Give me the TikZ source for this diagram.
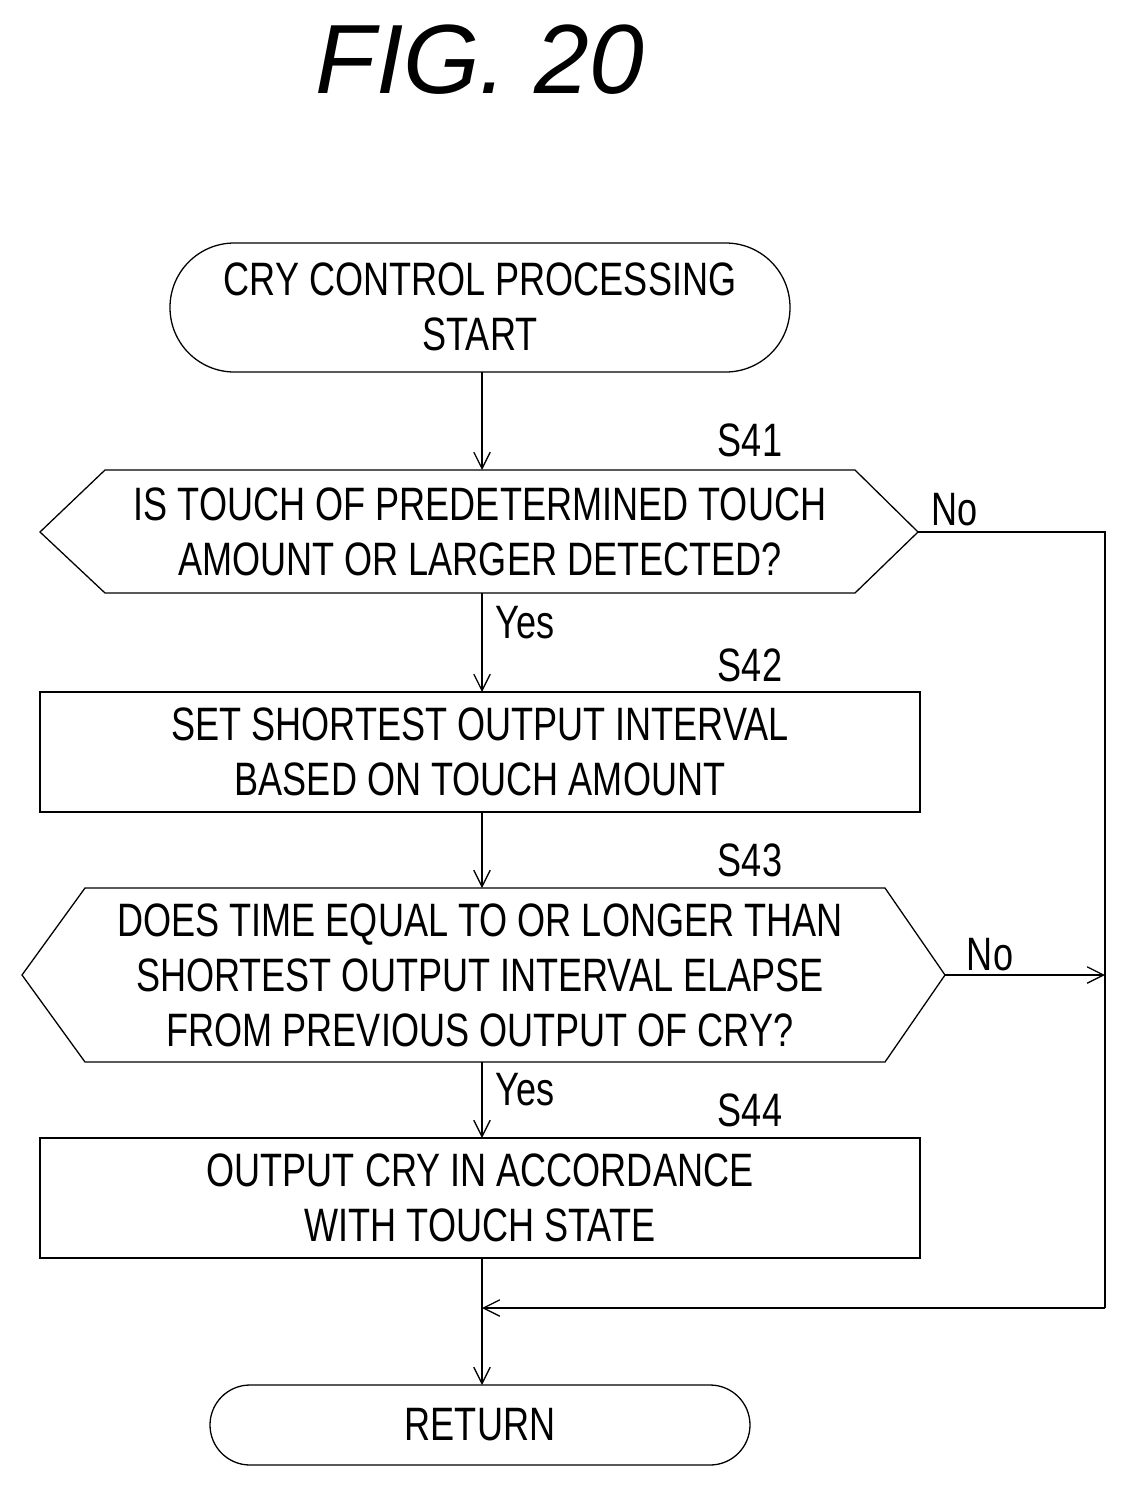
\documentclass[tikz,border=0pt]{standalone}
\usepackage{fontspec}
\setmainfont{Liberation Sans}[FakeStretch=0.77]
\newfontfamily\titlefont{Liberation Sans}
\usetikzlibrary{arrows.meta}
\begin{document}
\begin{tikzpicture}[x=0.03cm,y=-0.03cm,
  line width=1.1pt,
  txt/.style={align=center,font=\fontsize{40}{47}\selectfont,inner sep=0pt},
  lbl/.style={font=\fontsize{40}{47}\selectfont,inner sep=0pt},
  arr/.style={-{Straight Barb[length=14pt,width=14pt,line width=1.1pt]}}]
\useasboundingbox (0,0) rectangle (1128,1505);
\node[font=\titlefont\itshape\fontsize{84}{90}\selectfont] (title) at (480,60) {FIG. 20};
% start
\draw[rounded corners=1.93cm] (170,243) rectangle (790,372);
\node[txt] (start) at (480,307) {CRY CONTROL PROCESSING\\START};
\coordinate (startb) at (482,372);
% S41
\coordinate (d1t) at (482,470); \coordinate (d1b) at (482,593);
\coordinate (d1r) at (918,532);
\draw (40,532) -- (105,470) -- (855,470) -- (d1r) -- (855,593) -- (105,593) -- cycle;
\node[txt] (s41) at (480,532) {IS TOUCH OF PREDETERMINED TOUCH\\AMOUNT OR LARGER DETECTED?};
\node[lbl] (l41) at (750,440) {S41};
% S42
\draw (40,692) rectangle (920,812);
\node[txt] (s42) at (480,752) {SET SHORTEST OUTPUT INTERVAL\\BASED ON TOUCH AMOUNT};
\coordinate (b2t) at (482,692); \coordinate (b2b) at (482,812);
\node[lbl] (l42) at (750,665) {S42};
% S43
\coordinate (d3t) at (482,888); \coordinate (d3b) at (482,1062);
\coordinate (d3r) at (945,975);
\draw (22,975) -- (85,888) -- (885,888) -- (d3r) -- (885,1062) -- (85,1062) -- cycle;
\node[txt] (s43) at (480,975) {DOES TIME EQUAL TO OR LONGER THAN\\SHORTEST OUTPUT INTERVAL ELAPSE\\FROM PREVIOUS OUTPUT OF CRY?};
\node[lbl] (l43) at (750,860) {S43};
% S44
\draw (40,1138) rectangle (920,1258);
\node[txt] (s44) at (480,1198) {OUTPUT CRY IN ACCORDANCE\\WITH TOUCH STATE};
\coordinate (b4t) at (482,1138); \coordinate (b4b) at (482,1258);
\node[lbl] (l44) at (750,1110) {S44};
% return
\draw[rounded corners=1.2cm] (210,1385) rectangle (750,1465);
\node[txt] (ret) at (480,1425) {RETURN};
\coordinate (rt) at (482,1385);
% connectors
\coordinate (rr1) at (1105,532); \coordinate (rr2) at (1105,975);
\coordinate (jn) at (482,1308);
\coordinate (rrb) at (1105,1308);
\draw[arr] (startb) -- (d1t);
\draw[arr] (d1b) -- (b2t);
\draw[arr] (b2b) -- (d3t);
\draw[arr] (d3b) -- (b4t);
\draw[arr] (b4b) -- (rt);
\draw (d1r) -- (rr1) -- (rrb);
\draw[arr] (rrb) -- (jn);
\draw[arr] (d3r) -- (rr2);
\node[lbl] (no1) at (955,510) {No};
\node[lbl] (no2) at (990,955) {No};
\node[lbl] (y1) at (525,623) {Yes};
\node[lbl] (y2) at (525,1090) {Yes};
\end{tikzpicture}
\end{document}
